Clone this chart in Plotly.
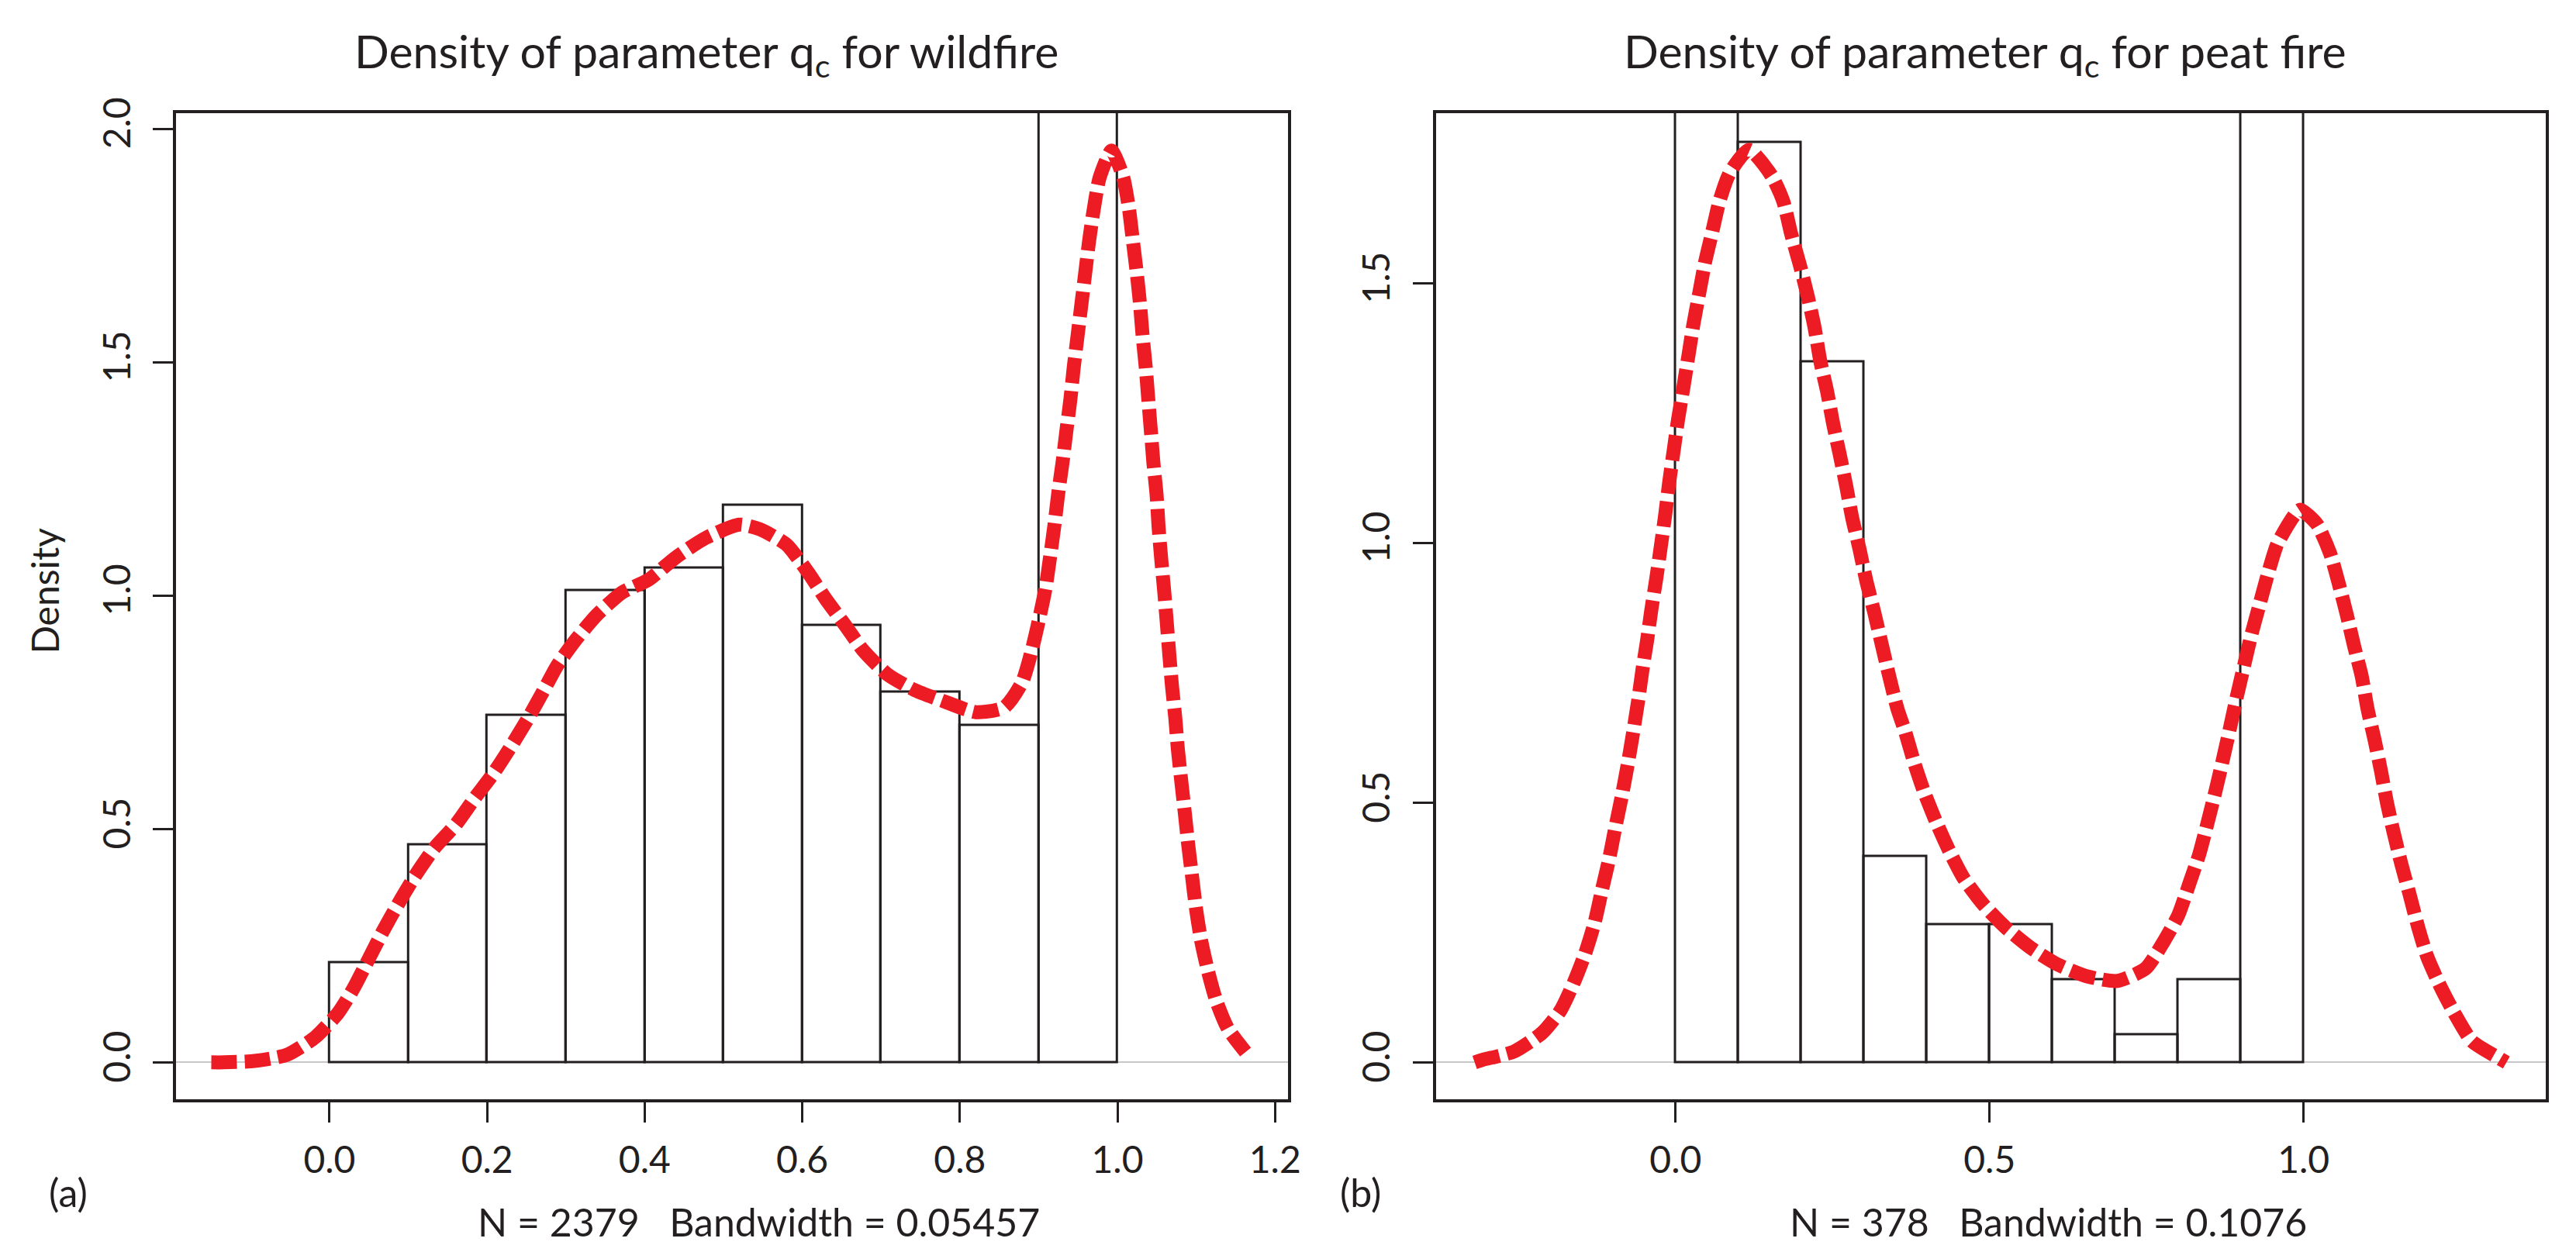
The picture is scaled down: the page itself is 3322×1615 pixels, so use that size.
import plotly.graph_objects as go
from plotly.subplots import make_subplots

# histogram bins (left edges, width 0.1) and densities
bin_left = [0.0, 0.1, 0.2, 0.3, 0.4, 0.5, 0.6, 0.7, 0.8, 0.9]
wild_hist = [0.214, 0.4665, 0.744, 1.011, 1.060, 1.193, 0.937, 0.794, 0.722, 2.858]
peat_hist = [2.92, 1.772, 1.349, 0.397, 0.265, 0.265, 0.159, 0.053, 0.159, 2.65]

# kernel density curves
wild_kde_x = [-0.150, -0.134, -0.095, -0.054, -0.018, 0.011, 0.030, 0.049, 0.0675, 0.086,
              0.108, 0.133, 0.161, 0.183, 0.208, 0.230, 0.252, 0.271, 0.289, 0.311,
              0.339, 0.371, 0.405, 0.439, 0.477, 0.520, 0.546, 0.580, 0.608, 0.630,
              0.655, 0.677, 0.708, 0.742, 0.782, 0.8205, 0.856, 0.879, 0.8906, 0.9004,
              0.9086, 0.9145, 0.920, 0.9249, 0.9305, 0.9354, 0.9403, 0.9445, 0.9494, 0.9543,
              0.9592, 0.9641, 0.970, 0.9772, 0.9925, 1.0072, 1.0147, 1.0196, 1.0245, 1.0287,
              1.032, 1.036, 1.0392, 1.0425, 1.0457, 1.0497, 1.0522, 1.0555, 1.0594, 1.0627,
              1.0659, 1.0692, 1.0734, 1.0767, 1.081, 1.0855, 1.0898, 1.0947, 1.0996, 1.106,
              1.115, 1.1256, 1.1403, 1.1626]
wild_kde_y = [0.000, 0.000, 0.003, 0.016, 0.054, 0.106, 0.157, 0.219, 0.280, 0.336,
              0.398, 0.459, 0.511, 0.563, 0.619, 0.676, 0.737, 0.794, 0.850, 0.902,
              0.958, 1.006, 1.034, 1.081, 1.123, 1.152, 1.142, 1.109, 1.048, 0.992,
              0.935, 0.883, 0.831, 0.798, 0.772, 0.750, 0.760, 0.814, 0.878, 0.948,
              1.014, 1.082, 1.150, 1.219, 1.287, 1.355, 1.420, 1.488, 1.556, 1.624,
              1.692, 1.760, 1.828, 1.894, 1.953, 1.897, 1.828, 1.760, 1.692, 1.624,
              1.556, 1.488, 1.420, 1.352, 1.284, 1.216, 1.148, 1.080, 1.009, 0.941,
              0.873, 0.807, 0.739, 0.671, 0.603, 0.535, 0.467, 0.399, 0.331, 0.263,
              0.195, 0.131, 0.072, 0.022]

peat_kde_x = [-0.320, -0.3075, -0.2572, -0.2125, -0.1834, -0.1617, -0.1443, -0.1288, -0.1175, -0.1058,
              -0.0959, -0.0856, -0.0762, -0.0677, -0.0597, -0.0527, -0.0456, -0.0386, -0.0306, -0.0235,
              -0.0165, -0.0103, -0.0033, 0.0038, 0.0122, 0.0202, 0.0282, 0.0376, 0.047, 0.0578,
              0.0696, 0.086, 0.1166, 0.1533, 0.1716, 0.1838, 0.1979, 0.2106, 0.2214, 0.2304,
              0.2412, 0.2506, 0.2614, 0.2718, 0.2811, 0.2929, 0.3037, 0.3164, 0.3282, 0.3399,
              0.3534, 0.3651, 0.3793, 0.3957, 0.4145, 0.4356, 0.4592, 0.4897, 0.5251, 0.565,
              0.6073, 0.6543, 0.7037, 0.7486, 0.777, 0.8007, 0.8183, 0.834, 0.8473, 0.8601,
              0.871, 0.8823, 0.8933, 0.9051, 0.917, 0.9298, 0.9431, 0.9582, 0.9857, 0.995,
              1.0214, 1.0426, 1.0569, 1.0688, 1.0806, 1.0925, 1.102, 1.1129, 1.1233, 1.1328,
              1.1432, 1.1555, 1.1683, 1.1826, 1.1968, 1.2172, 1.2396, 1.268, 1.313, 1.323]
peat_kde_y = [0.000, 0.005, 0.021, 0.057, 0.100, 0.155, 0.209, 0.270, 0.331, 0.392,
              0.453, 0.513, 0.574, 0.635, 0.696, 0.757, 0.811, 0.872, 0.933, 0.994,
              1.055, 1.116, 1.176, 1.237, 1.298, 1.359, 1.420, 1.481, 1.541, 1.596,
              1.657, 1.712, 1.757, 1.706, 1.657, 1.596, 1.535, 1.474, 1.414, 1.350,
              1.292, 1.231, 1.170, 1.109, 1.049, 0.988, 0.927, 0.866, 0.805, 0.745,
              0.680, 0.6385, 0.5796, 0.5206, 0.4641, 0.4077, 0.3536, 0.3045, 0.2603, 0.221,
              0.189, 0.166, 0.157, 0.181, 0.232, 0.284, 0.345, 0.401, 0.462, 0.524,
              0.580, 0.641, 0.702, 0.763, 0.824, 0.881, 0.940, 0.998, 1.054, 1.064,
              1.036, 0.979, 0.918, 0.862, 0.801, 0.744, 0.680, 0.622, 0.561, 0.500,
              0.444, 0.383, 0.326, 0.260, 0.204, 0.148, 0.096, 0.041, 0.007, 0.000]

titles = ["Density of parameter q<sub>c</sub> for wildfire",
          "Density of parameter q<sub>c</sub> for peat fire"]
subtitles = ["N = 2379   Bandwidth = 0.05457", "N = 378   Bandwidth = 0.1076"]

INK = "#231f20"
RED = "#ed1c24"
FONT = "Lato, 'Open Sans', sans-serif"

fig = make_subplots(rows=1, cols=2)

for col, hist, kx, ky in [(1, wild_hist, wild_kde_x, wild_kde_y),
                          (2, peat_hist, peat_kde_x, peat_kde_y)]:
    fig.add_trace(go.Bar(
        x=[b + 0.05 for b in bin_left], y=hist, width=0.1,
        marker=dict(color="rgba(255,255,255,0)", line=dict(color=INK, width=3)),
        showlegend=False, hoverinfo="skip",
    ), row=1, col=col)
    fig.add_trace(go.Scatter(
        x=kx, y=ky, mode="lines", line_shape="spline",
        line=dict(color=RED, width=18, dash="33px,10px", smoothing=0.6),
        showlegend=False,
    ), row=1, col=col)

axis_common = dict(
    showline=True, linewidth=4, linecolor=INK, mirror=True,
    ticks="outside", ticklen=26, tickwidth=3, tickcolor=INK,
    showgrid=False, tickfont=dict(family=FONT, size=48, color=INK),
)
ydom = [0.1288, 0.9263]
fig.update_xaxes(axis_common, zeroline=False, ticklabelstandoff=8)
fig.update_yaxes(axis_common, zeroline=True, zerolinecolor="#c8c8c8", zerolinewidth=2,
                 tickangle=-90, ticklabelstandoff=10)

fig.update_layout(
    xaxis=dict(domain=[0.0662, 0.5], range=[-0.195, 1.216],
               tickvals=[0, 0.2, 0.4, 0.6, 0.8, 1.0, 1.2],
               ticktext=["0.0", "0.2", "0.4", "0.6", "0.8", "1.0", "1.2"]),
    xaxis2=dict(domain=[0.5578, 0.991], range=[-0.382, 1.386],
                tickvals=[0, 0.5, 1.0], ticktext=["0.0", "0.5", "1.0"]),
    yaxis=dict(domain=ydom, range=[-0.0784, 2.034],
               tickvals=[0, 0.5, 1.0, 1.5, 2.0],
               ticktext=["0.0", "0.5", "1.0", "1.5", "2.0"]),
    yaxis2=dict(domain=ydom, range=[-0.0703, 1.828],
                tickvals=[0, 0.5, 1.0, 1.5], ticktext=["0.0", "0.5", "1.0", "1.5"]),
    width=3322, height=1615,
    margin=dict(l=0, r=0, t=0, b=0),
    paper_bgcolor="white", plot_bgcolor="white",
    bargap=0,
)

W, H = 3322, 1615
notes = [
    (titles[0], 908, 42, 59, 0),
    (titles[1], 2565, 42, 59, 0),
    (subtitles[0], 975, 1567, 50, 0),
    (subtitles[1], 2647, 1567, 50, 0),
    ("(a)", 80, 1529, 50, 0),
    ("(b)", 1755, 1529, 50, 0),
    ("Density", 50, 743, 48, -90),
]
for text, px, py, size, angle in notes:
    fig.add_annotation(
        text=text, x=px / W, y=1 - py / H, xref="paper", yref="paper",
        xanchor="center", yanchor="middle", showarrow=False, textangle=angle,
        font=dict(family=FONT, size=size, color=INK),
    )

fig.write_html("out.html")
